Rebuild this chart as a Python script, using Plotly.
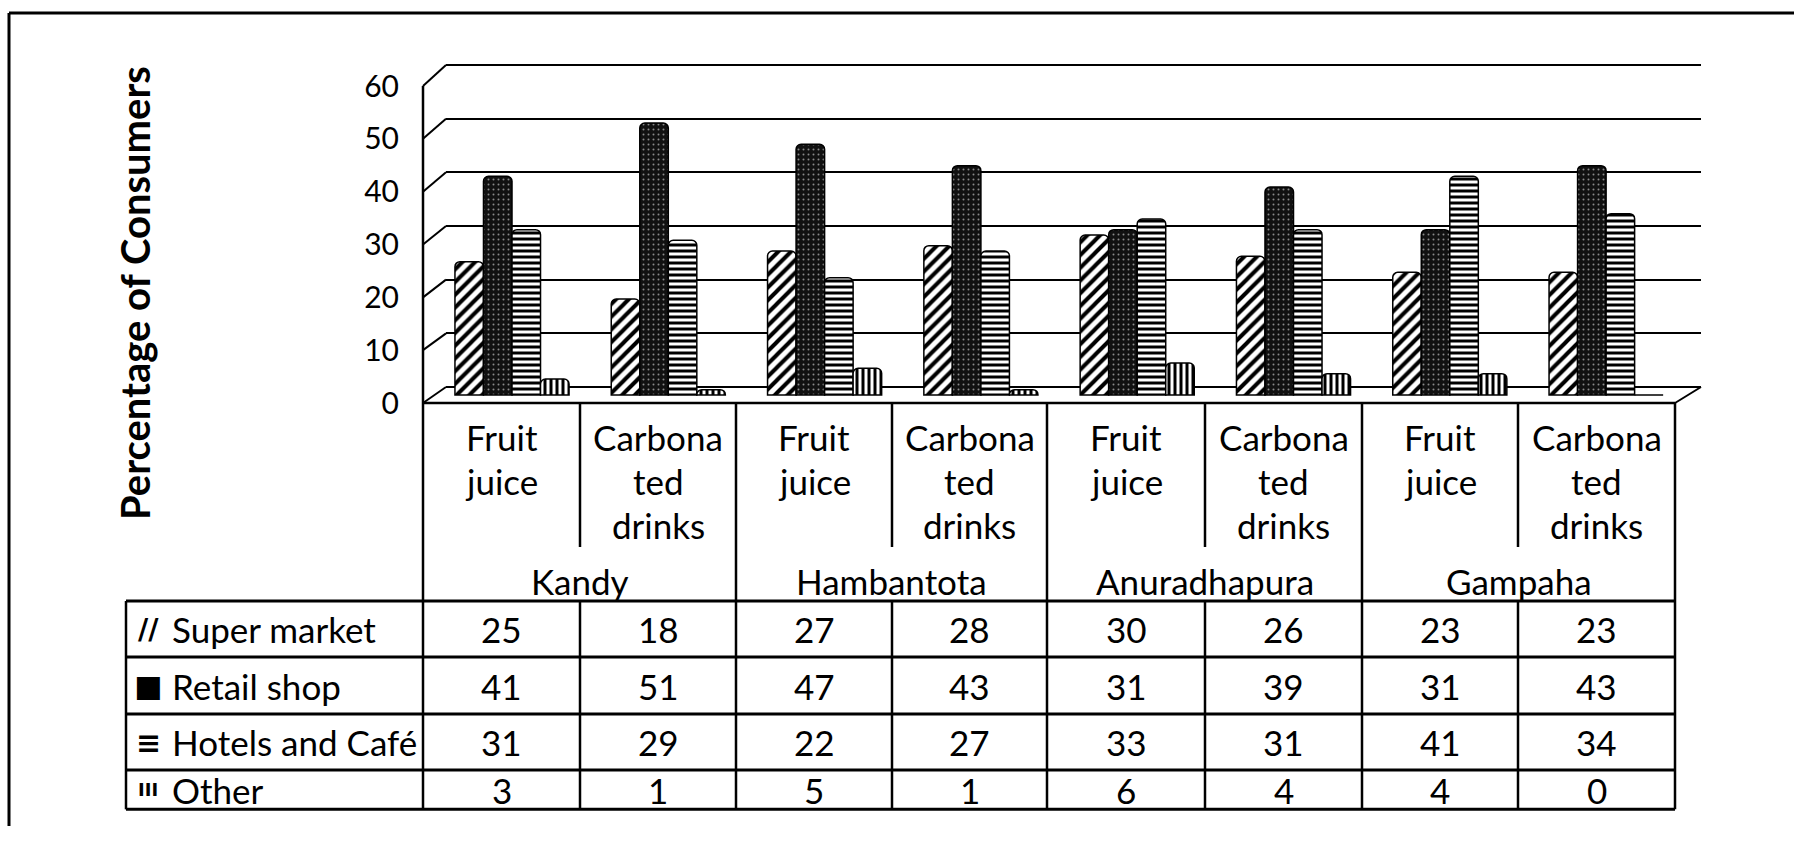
import plotly.graph_objects as go

# ---------------- data ----------------
regions = ["Kandy", "Hambantota", "Anuradhapura", "Gampaha"]
drink_types = ["Fruit juice", "Carbonated drinks"]
drink_header_lines = [["Fruit", "juice"], ["Carbona", "ted", "drinks"]]
series_names = ["Super market", "Retail shop", "Hotels and Café", "Other"]
super_market = [25, 18, 27, 28, 30, 26, 23, 23]
retail_shop = [41, 51, 47, 43, 31, 39, 31, 43]
hotels_cafe = [31, 29, 22, 27, 33, 31, 41, 34]
other = [3, 1, 5, 1, 6, 4, 4, 0]
y_ticks = [0, 10, 20, 30, 40, 50, 60]
y_title = "Percentage of Consumers"
legend_icons = ["//", "■", "≡", "III"]

categories = [f"{r} | {d}" for r in regions for d in drink_types]
series_values = [super_market, retail_shop, hotels_cafe, other]

# ---------------- geometry (reference pixels, converted to paper fractions) ----------------
W, H = 1794, 843
KY = 843 / 826.0   # vertical compensation
BOTTOM = H - 17    # lowest visible line
FONT = "Lato"


def px(x):
    return x / W


def page_y(y):
    return min(y * KY, BOTTOM)


def py(y):
    return 1 - page_y(y) / H


def pyp(p):
    return 1 - p / H


wall_front_x, wall_back_x = 423, 446
back_right_x, front_right_x = 1701, 1675
back_zero_y, back_top_y = 387, 65
front_zero_y, front_top_y = 403, 86
col_edges = [423, 580, 736, 892, 1047, 1205, 1362, 1518, 1675]
row_edges = [601, 657, 714, 770, 826]
label_left = 126
header_sub_bottom = 547

back_unit = (back_zero_y - back_top_y) / 60.0
bar_zero_y, bar_unit = 395, 5.333
front_unit = (front_zero_y - front_top_y) / 60.0

x0_px, x_unit = 512, 156.3
x_rng = [-(x0_px - wall_back_x) / x_unit, (back_right_x - x0_px) / x_unit]

dom_top, dom_bot = back_top_y - 3, front_zero_y
y_rng = [-(dom_bot - back_zero_y) / back_unit, (back_zero_y - dom_top) / back_unit]
y2_rng = [-(dom_bot - bar_zero_y) / bar_unit, (bar_zero_y - dom_top) / bar_unit]
y3_rng = [0, (front_zero_y - dom_top) / front_unit]

fig = go.Figure()

patterns = [
    dict(shape="/", bgcolor="white", fgcolor="black", size=9, solidity=0.45, fillmode="replace"),
    dict(shape=".", bgcolor="#111111", fgcolor="#8a8a8a", size=5, solidity=0.12, fillmode="replace"),
    dict(shape="-", bgcolor="white", fgcolor="black", size=6, solidity=0.5, fillmode="replace"),
    dict(shape="|", bgcolor="white", fgcolor="black", size=6, solidity=0.5, fillmode="replace"),
]

for name, vals, pat in zip(series_names, series_values, patterns):
    fig.add_trace(go.Bar(
        x=categories, y=vals, name=name, yaxis="y2",
        marker=dict(color="white", pattern=pat, line=dict(color="black", width=1.5)),
        showlegend=False, hoverinfo="x+y+name",
    ))

# invisible helpers so that the gridline axis and tick-label axis are drawn
fig.add_trace(go.Scatter(x=[categories[0]], y=[y_ticks[0]], yaxis="y", mode="markers",
                         marker=dict(opacity=0), showlegend=False, hoverinfo="skip"))
fig.add_trace(go.Scatter(x=[categories[0]], y=[y_ticks[0]], yaxis="y3", mode="markers",
                         marker=dict(opacity=0), showlegend=False, hoverinfo="skip"))

shapes = []
LW = 2.5


def line(x0, y0, x1, y1, w=LW):
    shapes.append(dict(type="line", xref="paper", yref="paper",
                       x0=px(x0), y0=py(y0), x1=px(x1), y1=py(y1),
                       line=dict(color="black", width=w)))


# outer frame (top and left)
line(9, 13, W, 13, 3)
shapes.append(dict(type="line", xref="paper", yref="paper", x0=px(9), y0=py(13), x1=px(9), y1=0,
                   line=dict(color="black", width=3)))

# left wall diagonals, wall edge, floor, table grid
for v in y_ticks:
    line(wall_front_x, front_zero_y - v * front_unit, wall_back_x, back_zero_y - v * back_unit, 2)
line(wall_front_x, front_top_y, wall_front_x, row_edges[-1])
line(wall_front_x, front_zero_y, front_right_x, front_zero_y)
line(front_right_x, front_zero_y, back_right_x, back_zero_y, 2)
line(front_right_x, front_zero_y, front_right_x, row_edges[-1])
for i in range(2, len(col_edges) - 1, 2):
    line(col_edges[i], front_zero_y, col_edges[i], row_edges[-1])
for i in range(1, len(col_edges) - 1, 2):
    line(col_edges[i], front_zero_y, col_edges[i], header_sub_bottom)
    line(col_edges[i], row_edges[0], col_edges[i], row_edges[-1])
for y in row_edges:
    line(label_left, y, front_right_x, y, 3)
line(label_left, row_edges[0], label_left, row_edges[-1])

annotations = []
TFS = 35


def text_p(x, yp, s, size=TFS, xanchor="center", bold=False, angle=0, family=FONT):
    annotations.append(dict(xref="paper", yref="paper", x=px(x), y=pyp(yp), text=(f"<b>{s}</b>" if bold else s),
                            showarrow=False, xanchor=xanchor, yanchor="middle", textangle=angle,
                            font=dict(family=family, size=size, color="black")))


def text(x, y, s, **kw):
    text_p(x, page_y(y), s, **kw)


col_centers = [(col_edges[i] + col_edges[i + 1]) / 2 for i in range(len(col_edges) - 1)]
# row centres computed in page space so the last (clamped) row stays centred
row_centers_page = [(page_y(row_edges[i]) + page_y(row_edges[i + 1])) / 2 for i in range(len(row_edges) - 1)]

line_y = [437, 481, 525]
for ci, cx in enumerate(col_centers):
    for li, s in enumerate(drink_header_lines[ci % 2]):
        text(cx, line_y[li], s)
for ri, r in enumerate(regions):
    cx = (col_edges[2 * ri] + col_edges[2 * ri + 2]) / 2
    text(cx, 581, r)

icon_sizes = [28, 30, 30, 18]
for si, name in enumerate(series_names):
    yp = row_centers_page[si]
    text_p(170, yp, name, xanchor="left")
    text_p(148, yp, legend_icons[si], size=icon_sizes[si], bold=True, family="DejaVu Sans")
    for ci, v in enumerate(series_values[si]):
        text_p(col_centers[ci], yp, str(v))

text(135, 293, y_title, size=40, bold=True, angle=-90)

fig.update_layout(
    width=W, height=H, autosize=False,
    margin=dict(l=0, r=0, t=0, b=0),
    paper_bgcolor="white", plot_bgcolor="rgba(0,0,0,0)",
    barmode="group", bargap=0.27, bargroupgap=0.0, barcornerradius=5,
    font=dict(family=FONT, color="black"),
    xaxis=dict(type="category", categoryorder="array", categoryarray=categories,
               range=x_rng, domain=[px(wall_back_x), px(back_right_x)],
               showticklabels=False, showgrid=False, zeroline=False, showline=False, fixedrange=True),
    yaxis=dict(range=y_rng, domain=[py(dom_bot), py(dom_top)], tickvals=y_ticks,
               showgrid=True, gridcolor="black", gridwidth=2, showticklabels=False,
               zeroline=False, showline=False, fixedrange=True),
    yaxis2=dict(overlaying="y", range=y2_rng, showgrid=False, showticklabels=False,
                zeroline=False, showline=False, fixedrange=True),
    yaxis3=dict(overlaying="y", anchor="free", position=px(wall_front_x), side="left",
                range=y3_rng, tickvals=y_ticks, showgrid=False, zeroline=False, showline=False,
                ticks="", ticklabelstandoff=24, tickfont=dict(family=FONT, size=30, color="black"),
                fixedrange=True),
    shapes=shapes, annotations=annotations,
)

post = (
    "var gd=document.getElementById('{plot_id}');"
    "document.documentElement.style.margin='0';document.body.style.margin='0';"
    "document.documentElement.style.overflow='hidden';document.body.style.overflow='hidden';"
    "gd.style.position='fixed';gd.style.left='0px';gd.style.top='0px';"
)
fig.write_html("out.html", config={"displayModeBar": False}, post_script=post)
